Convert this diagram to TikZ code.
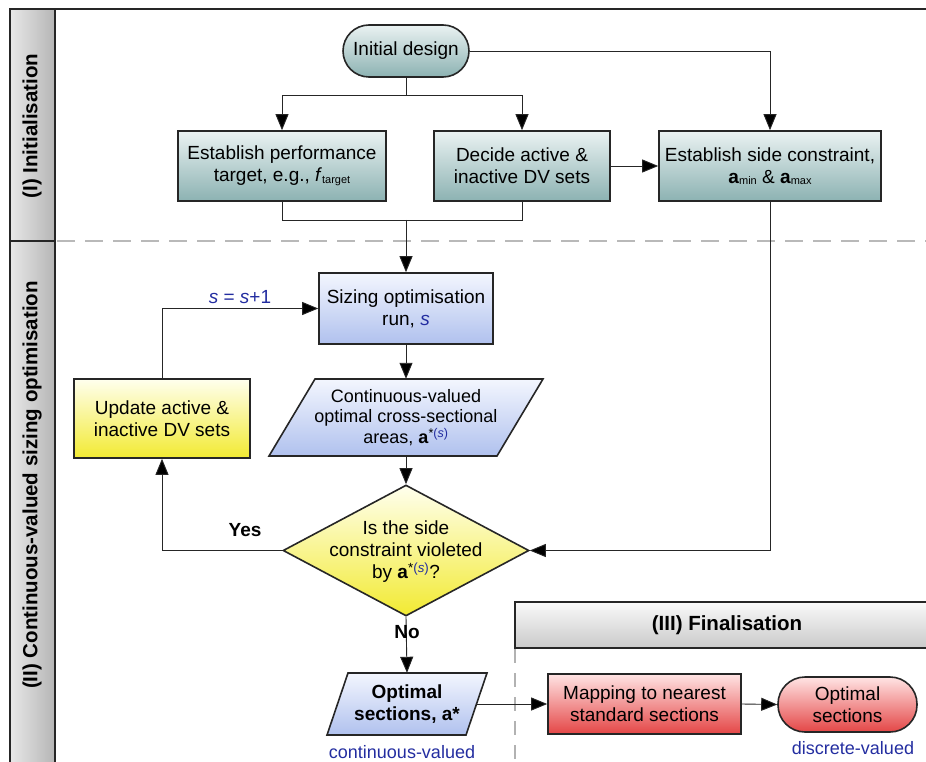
\documentclass[tikz,border=0pt]{standalone}
\usepackage{fontspec}
\setmainfont{Liberation Sans}
\usetikzlibrary{shapes.geometric,arrows.meta}
\definecolor{tealT}{RGB}{234,242,242}
\definecolor{tealB}{RGB}{140,178,178}
\definecolor{blueT}{RGB}{243,246,254}
\definecolor{blueB}{RGB}{176,193,238}
\definecolor{yelT}{RGB}{255,255,238}
\definecolor{yelB}{RGB}{242,234,50}
\definecolor{redT}{RGB}{255,228,228}
\definecolor{redB}{RGB}{228,70,70}
\definecolor{txtblue}{RGB}{35,45,160}
\newcommand{\msz}{\fontsize{19}{22}\selectfont}
\newcommand{\psz}{\fontsize{18}{20.5}\selectfont}
\newcommand{\smallsub}[1]{\raisebox{-1.5pt}{\fontsize{11}{11}\selectfont #1}}
\newcommand{\astar}{\textbf{a}\textsuperscript{*{\color{txtblue}(\textit{s})}}}
\begin{document}
\begin{tikzpicture}[x=1pt,y=-1pt,
  box/.style={draw=black!85, line width=1.6pt, align=center, inner sep=0pt, font=\msz},
  outl/.style={draw=black!85, line width=1.6pt},
  fteal/.style={top color=tealT, bottom color=tealB},
  fblue/.style={top color=blueT, bottom color=blueB},
  fyel/.style={top color=yelT, bottom color=yelB},
  fred/.style={top color=redT, bottom color=redB},
  txt/.style={align=center, inner sep=0pt, font=\msz},
  arr/.style={-{Triangle[length=16pt,width=13pt,fill=black]}, line width=0.9pt, draw=black!85},
  ln/.style={line width=0.9pt, draw=black!85},
  lane/.style={rotate=90, font=\bfseries\fontsize{20.5}{22}\selectfont, inner sep=0pt}
]
\useasboundingbox (0,0) rectangle (926,762);

% swimlane frame
\path[left color=gray!18, right color=gray!58] (10,9) rectangle (55,762);
\draw[line width=1.5pt, black!85] (926,9) -- (10,9) -- (10,762);
\draw[line width=1.5pt, black!85] (55,9) -- (55,762);
\draw[line width=1.5pt, black!85] (10,241) -- (55,241);
\draw[line width=2pt, gray!55, dash pattern=on 18pt off 10pt] (57,241) -- (926,241);
\node[lane] (lab1) at (32,126) {(I) Initialisation};
\node[lane] (lab2) at (32,485) {(II) Continuous-valued sizing optimisation};

% finalisation header
\draw[line width=1.4pt, black!85, top color=gray!4, bottom color=gray!42] (515,602) rectangle (940,648);
\node[font=\bfseries\fontsize{20.5}{22}\selectfont, inner sep=0pt] (finlab) at (727,625) {(III) Finalisation};
\draw[line width=1.3pt, gray!60, dash pattern=on 14pt off 10pt] (515,649) -- (515,762);

% stage I
\node[box, fteal, rounded corners=26pt, minimum width=126, minimum height=52] (init) at (406,51) {Initial design};
\node[box, fteal, minimum width=208, minimum height=70] (perf) at (282,166) {Establish performance\\target, e.g., \textit{f}\smallsub{target}};
\node[box, fteal, minimum width=176, minimum height=70] (dec) at (522,166) {Decide active \&\\inactive DV sets};
\node[box, fteal, minimum width=222, minimum height=70] (side) at (770,166) {Establish side constraint,\\\textbf{a}\smallsub{min} \& \textbf{a}\smallsub{max}};

% stage II
\node[box, fblue, minimum width=174, minimum height=71] (size) at (406,308.5) {Sizing optimisation\\run, {\color{txtblue}\textit{s}}};
\draw[outl, fblue] (315,379) -- (543,379) -- (497,456) -- (269,456) -- cycle;
\node[txt, font=\psz, minimum width=180, minimum height=77] (par1) at (406,417.5) {Continuous-valued\\optimal cross-sectional\\areas, \astar};
\node[box, fyel, minimum width=176, minimum height=79] (upd) at (162,418.5) {Update active \&\\inactive DV sets};
\node[outl, fyel, diamond, minimum width=246, minimum height=131, inner sep=0pt, aspect=1.88] (dia) at (406,550.5) {};
\node[txt] (diat) at (406,552) {Is the side\\constraint violeted\\by \astar?};
\draw[outl, fblue] (348,673) -- (487,673) -- (466,735) -- (327,735) -- cycle;
\node[txt, font=\bfseries\msz, minimum width=120, minimum height=62] (opt) at (407,704) {Optimal\\sections, a*};
\coordinate (optR) at (476.5,704);
\node[txt, text=txtblue, font=\psz] (contv) at (402,752) {continuous-valued};

% stage III
\node[box, fred, minimum width=193, minimum height=60] (map) at (644.5,704) {Mapping to nearest\\standard sections};
\node[box, fred, rounded corners=27pt, minimum width=139, minimum height=55] (fin) at (847.5,704.5) {Optimal\\sections};
\node[txt, text=txtblue, font=\psz] (discv) at (853,748) {discrete-valued};

% connectors
\coordinate (split) at (406,95);
\coordinate (join) at (406,220);
\draw[ln] (init.south) -- (split);
\draw[arr] (split) -| (perf.north);
\draw[arr] (split) -| (dec.north);
\draw[arr] (init.east) -| (side.north);
\draw[arr] (dec.east) -- (side.west);
\draw[ln] (perf.south) |- (join);
\draw[ln] (dec.south) |- (join);
\draw[arr] (join) -- (size.north);
\draw[arr] (size.south) -- (par1.north);
\draw[arr] (par1.south) -- (dia.north);
\draw[arr] (dia.west) -| (upd.south);
\node[font=\bfseries\msz, inner sep=0pt] (yes) at (245,530) {Yes};
\draw[arr] (upd.north) |- (size.west);
\node[font=\msz, text=txtblue, inner sep=0pt] (inc) at (240,297) {\textit{s} = \textit{s}+1};
\draw[arr] (side.south) |- (dia.east);
\draw[arr] (dia.south) -- (opt.north);
\node[font=\bfseries\msz, inner sep=0pt] (no) at (407,632) {No};
\draw[arr] (optR) -- (map.west);
\draw[arr] (map.east) -- (fin.west);
\end{tikzpicture}
\end{document}
